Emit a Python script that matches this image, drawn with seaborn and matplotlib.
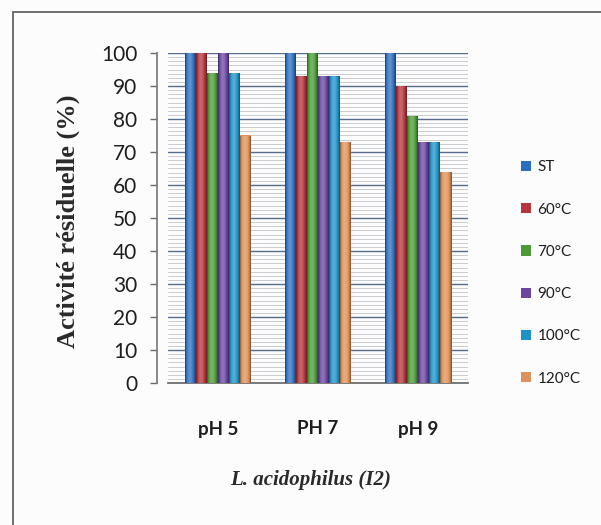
import numpy as np
import pandas as pd
import seaborn as sns
import matplotlib
matplotlib.use("Agg")
import matplotlib.pyplot as plt
from matplotlib.ticker import MultipleLocator
from matplotlib.patches import Patch
from matplotlib.lines import Line2D

# Residual activity (%) of L. acidophilus (I2) after treatment
groups = ["pH 5", "PH 7", "pH 9"]
series = ["ST", "60°C", "70°C", "90°C", "100°C", "120°C"]
st = [100, 100, 100]
t60 = [100, 93, 90]
t70 = [94, 100, 81]
t90 = [100, 93, 73]
t100 = [94, 93, 73]
t120 = [75, 73, 64]
y_ticks = [0, 10, 20, 30, 40, 50, 60, 70, 80, 90, 100]

colors = ["#2C6EBE", "#B4353D", "#4B9A36", "#6A46A0", "#1E92C6", "#DE9158"]
bg = "#FBFCFB"

values = [st, t60, t70, t90, t100, t120]
df = pd.DataFrame(
    [(g, s, v[i]) for s, v in zip(series, values) for i, g in enumerate(groups)],
    columns=["pH", "Traitement", "Activite"],
)

sns.set_theme(style="white")
plt.rcParams["font.family"] = ["Lato", "DejaVu Sans"]

fig = plt.figure(figsize=(6.01, 5.25), dpi=100, facecolor=bg)
W, H = 601, 525
ax = fig.add_axes([168 / W, 1 - 383 / H, (468 - 168) / W, (383 - 53) / H])
ax.set_facecolor(bg)

sns.barplot(
    data=df, x="pH", y="Activite", hue="Traitement", order=groups,
    hue_order=series, palette=colors, width=0.66, gap=0, saturation=1,
    errorbar=None, legend=False, ax=ax, zorder=3,
)

# cylindrical shading across each bar: dark rims, highlight left of centre
t = np.linspace(0, 1, 64)
shade = 0.5 + 0.72 * np.sin(np.pi * t ** 0.85) ** 0.7
for p in ax.patches:
    base = np.array(p.get_facecolor()[:3])
    rows = []
    for f in shade:
        if f <= 1:
            rows.append(base * f)
        else:
            rows.append(base + (1 - base) * (f - 1) * 1.1)
    img = np.clip(np.array(rows)[None, :, :], 0, 1)
    x0, w, h = p.get_x(), p.get_width(), p.get_height()
    im = ax.imshow(img, extent=[x0, x0 + w, 0, h], aspect="auto",
                   interpolation="bilinear", zorder=4)
    im.set_clip_path(p)
    p.set_edgecolor("none")

ax.set_xlim(-0.5, 2.5)
ax.set_ylim(0, 100)
ax.set_yticks(y_ticks)
ax.yaxis.set_minor_locator(MultipleLocator(1.25))
ax.set_axisbelow(True)
ax.grid(which="major", axis="y", color="#566C8C", lw=1.0, zorder=1)
ax.grid(which="minor", axis="y", color="#C9CDD2", lw=0.7, zorder=0)

for s in ["top", "right"]:
    ax.spines[s].set_visible(False)
ax.spines["left"].set_position(("outward", 8))
ax.spines["left"].set_color("#7A7A7A")
ax.spines["bottom"].set_color("#6A6A6A")

ax.tick_params(axis="y", which="major", left=True, length=5, width=1,
               color="#6A6A6A", direction="out", pad=9, labelsize=15,
               labelcolor="#1E1E1E")
ax.tick_params(axis="y", which="minor", left=False)
ax.tick_params(axis="x", length=0, pad=27, labelsize=13.5, labelcolor="#1E1E1E")
for lab in ax.get_xticklabels():
    lab.set_fontweight("bold")

ax.set_xlabel("")
ax.set_ylabel("Activité résiduelle (%)", family="Liberation Serif",
              fontweight="bold", fontsize=19, color="#2A2A2A")
ax.yaxis.label.set_va("center")
ax.yaxis.set_label_coords((68 - 168) / 300, 0.49)

fig.text(311 / W, 1 - 480 / H, "L. acidophilus (I2)", ha="center", va="center",
         family="Liberation Serif", fontstyle="italic", fontweight="bold",
         fontsize=15, color="#2A2A2A")

handles = [Patch(facecolor=c, edgecolor="none") for c in colors]
fig.legend(handles, series, loc="center left",
           bbox_to_anchor=(513 / W, 1 - 273 / H), frameon=False,
           fontsize=11, handlelength=0.65, handleheight=0.65,
           handletextpad=0.45, labelspacing=1.85, borderpad=0,
           labelcolor="#1E1E1E")

# outer frame (top and left edges)
fig.add_artist(Line2D([13 / W, 1], [1 - 12 / H, 1 - 12 / H],
                      transform=fig.transFigure, color="#6E6E6E", lw=1.4))
fig.add_artist(Line2D([13 / W, 13 / W], [0, 1 - 12 / H],
                      transform=fig.transFigure, color="#6E6E6E", lw=1.4))

fig.savefig("out.png", dpi=100, facecolor=bg)
